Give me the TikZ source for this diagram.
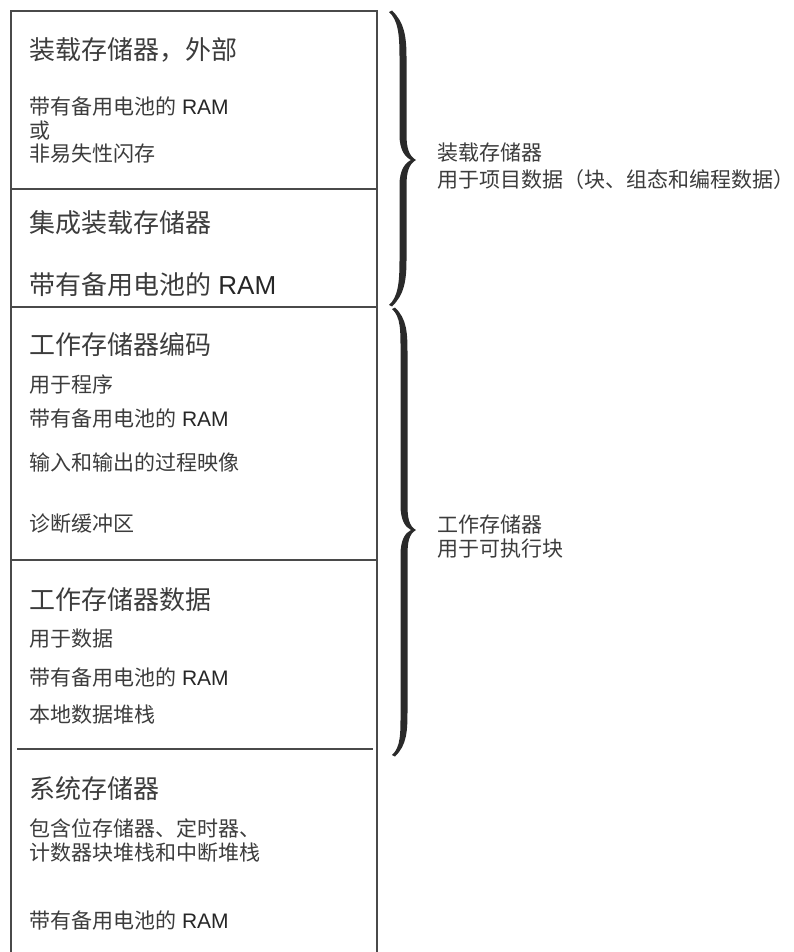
\documentclass[tikz,border=0pt]{standalone}
\usepackage{fontspec}
\setmainfont{Liberation Sans}
\newfontfamily\cjk{Noto Sans CJK SC}
\definecolor{boxgray}{HTML}{4A4A4A}
\definecolor{txtgray}{HTML}{3C3C3C}
\definecolor{bracecol}{HTML}{2A2A2A}
\newcommand\mybrace[6]{% xe xs xt yt ym yb
  \fill[bracecol]
  (#1,#4)
  .. controls ({#1+9},{#4+8}) and ({#2-3.5},{#4+22}) .. ({#2-3.5},{#4+45})
  -- ({#2-3.5},{#5-25})
  .. controls ({#2-3.5},{#5-10}) and ({#3-10},{#5-3}) .. ({#3-4},#5)
  .. controls ({#3-10},{#5+3}) and ({#2-3.5},{#5+10}) .. ({#2-3.5},{#5+25})
  -- ({#2-3.5},{#6-45})
  .. controls ({#2-3.5},{#6-22}) and ({#1+9},{#6-8}) .. (#1,#6)
  -- ({#1+3},{#6+1.5})
  .. controls ({#1+15},{#6-10}) and ({#2+3.5},{#6-24}) .. ({#2+3.5},{#6-45})
  -- ({#2+3.5},{#5+25})
  .. controls ({#2+3.5},{#5+12}) and ({#3-6},{#5+4}) .. ({#3+1},#5)
  .. controls ({#3-6},{#5-4}) and ({#2+3.5},{#5-12}) .. ({#2+3.5},{#5-25})
  -- ({#2+3.5},{#4+45})
  .. controls ({#2+3.5},{#4+24}) and ({#1+15},{#4+10}) .. ({#1+3},{#4-1.5})
  -- cycle;}
\newcommand\ram{{\color{black!85}RAM}}
\begin{document}
\begin{tikzpicture}[x=1pt,y=-1pt,
  frame/.style={draw=boxgray, line width=1.1pt},
  ttl/.style={anchor=west, inner sep=0pt, font=\fontsize{26}{30}\selectfont, text=txtgray},
  bdy/.style={anchor=west, inner sep=0pt, font=\fontsize{21}{25}\selectfont, text=txtgray},
]
\useasboundingbox (0,0) rectangle (793,952);
% frame
\draw[frame] (11,952) -- (11,11) -- (377,11) -- (377,952);
\draw[frame] (11,189) -- (377,189);
\draw[frame] (11,307) -- (377,307);
\draw[frame] (11,560) -- (377,560);
\draw[frame] (17,749) -- (373,749);
% box 1
\node[ttl] (t1) at (29,50) {\cjk 装载存储器，外部};
\node[bdy] (b1a) at (29,107) {{\cjk 带有备用电池的} \ram};
\node[bdy] (b1b) at (29,131) {\cjk 或};
\node[bdy] (b1c) at (29,154) {\cjk 非易失性闪存};
% box 2
\node[ttl] (t2) at (29,223) {\cjk 集成装载存储器};
\node[ttl] (b2a) at (29,285) {{\cjk 带有备用电池的} \ram};
% box 3
\node[ttl] (t3) at (29,345) {\cjk 工作存储器编码};
\node[bdy] (b3a) at (29,385) {\cjk 用于程序};
\node[bdy] (b3b) at (29,419) {{\cjk 带有备用电池的} \ram};
\node[bdy] (b3c) at (29,463) {\cjk 输入和输出的过程映像};
\node[bdy] (b3d) at (29,524) {\cjk 诊断缓冲区};
% box 4
\node[ttl] (t4) at (29,600) {\cjk 工作存储器数据};
\node[bdy] (b4a) at (29,639) {\cjk 用于数据};
\node[bdy] (b4b) at (29,678) {{\cjk 带有备用电池的} \ram};
\node[bdy] (b4c) at (29,715) {\cjk 本地数据堆栈};
% box 5
\node[ttl] (t5) at (29,789) {\cjk 系统存储器};
\node[bdy] (b5a) at (29,828) {\cjk 包含位存储器、定时器、};
\node[bdy] (b5b) at (29,853) {\cjk 计数器块堆栈和中断堆栈};
\node[bdy] (b5c) at (29,921) {{\cjk 带有备用电池的} \ram};
% braces
\mybrace{389}{403}{415}{12}{160}{305}
\mybrace{392}{404}{415}{309}{530}{755}
% right labels
\node[bdy] (r1a) at (437,153) {\cjk 装载存储器};
\node[bdy] (r1b) at (437,180) {\cjk 用于项目数据（块、组态和编程数据）};
\node[bdy] (r2a) at (437,524) {\cjk 工作存储器};
\node[bdy] (r2b) at (437,549) {\cjk 用于可执行块};
\end{tikzpicture}
\end{document}
